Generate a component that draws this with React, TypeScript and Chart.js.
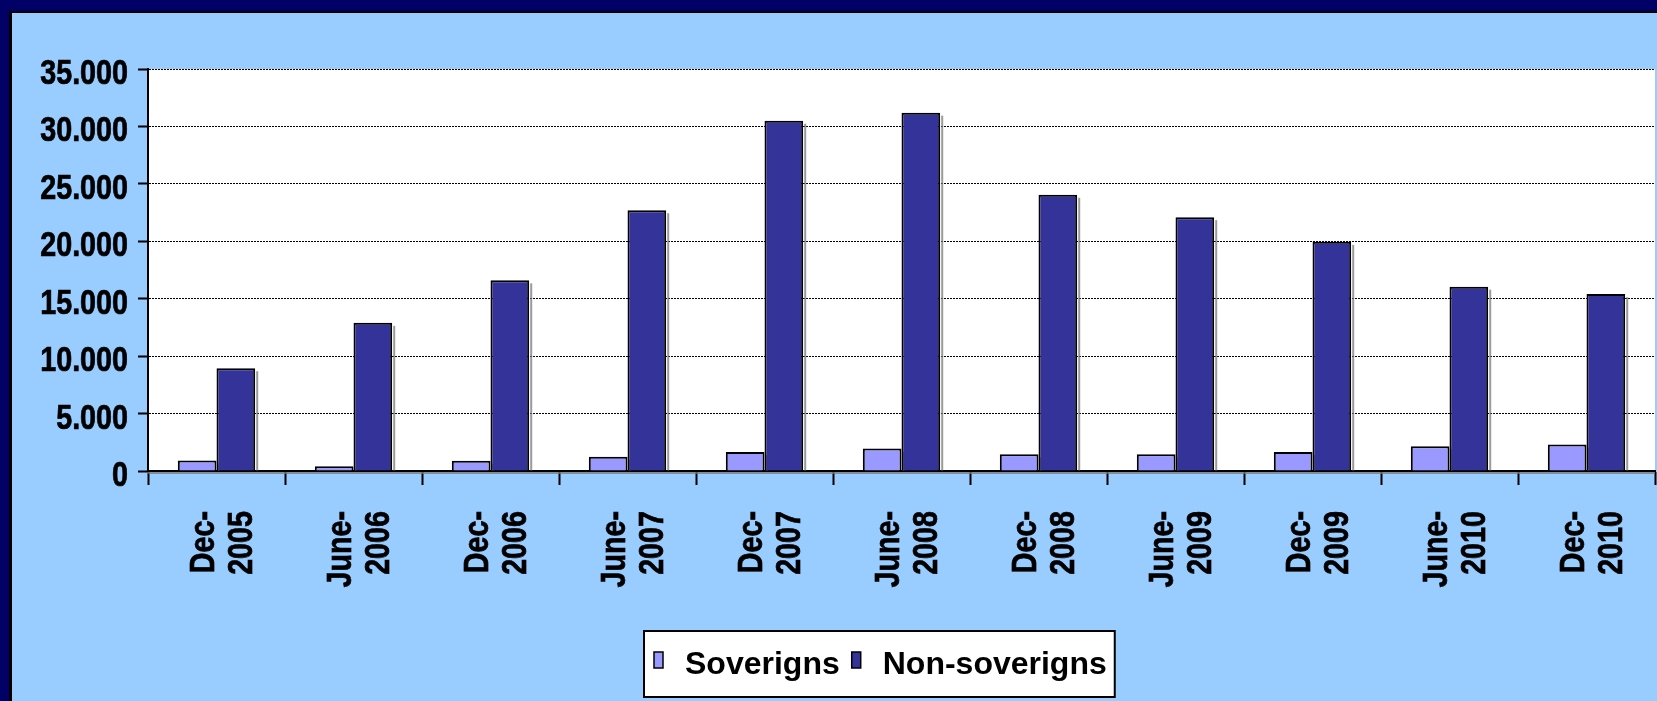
import React, { useEffect, useRef } from 'react';
import { Chart, registerables } from 'chart.js';

Chart.register(...registerables);

// ---- Data ----
const categories: string[][] = [
  ['Dec-', '2005'],
  ['June-', '2006'],
  ['Dec-', '2006'],
  ['June-', '2007'],
  ['Dec-', '2007'],
  ['June-', '2008'],
  ['Dec-', '2008'],
  ['June-', '2009'],
  ['Dec-', '2009'],
  ['June-', '2010'],
  ['Dec-', '2010'],
];
const sovereigns: number[] = [920, 420, 900, 1250, 1650, 1950, 1450, 1450, 1650, 2150, 2300];
const nonSovereigns: number[] = [8950, 12900, 16600, 22700, 30500, 31200, 24050, 22100, 19950, 16050, 15400];
const seriesNames: string[] = ['Soverigns', 'Non-soverigns'];
const seriesColors: string[] = ['#9999FF', '#333399'];
const yMin = 0;
const yMax = 35000;
const yStep = 5000;

// ---- Style constants ----
const W = 1657;
const H = 701;
const BG = '#99CCFF';
const NAVY = '#000066';
const AXIS_FONT = 'bold 35px "Liberation Sans", Arial, sans-serif';
const NARROW = 0.82; // emulate a narrow face
const LEGEND_FONT = 'bold 32px "Liberation Sans", Arial, sans-serif';

const formatThousands = (v: number): string => {
  const s = Math.round(v).toString();
  return s.replace(/\B(?=(\d{3})+(?!\d))/g, '.');
};

const framePlugin = {
  id: 'frameAndLegend',
  beforeDraw(chart: any) {
    const { ctx, chartArea } = chart;
    ctx.save();
    ctx.fillStyle = BG;
    ctx.fillRect(0, 0, W, H);
    ctx.fillStyle = NAVY;
    ctx.fillRect(0, 0, W, 11);
    ctx.fillRect(0, 0, 9, H);
    ctx.fillStyle = '#000';
    ctx.fillRect(9, 11, W - 9, 2);
    ctx.fillRect(9, 11, 3, H - 11);
    ctx.fillStyle = '#FFFFFF';
    ctx.fillRect(chartArea.left, chartArea.top, chartArea.right - chartArea.left, chartArea.bottom - chartArea.top);
    ctx.restore();
  },
  beforeDatasetsDraw(chart: any) {
    const { ctx, chartArea } = chart;
    ctx.save();
    ctx.fillStyle = 'rgba(120,120,120,0.75)';
    chart.data.datasets.forEach((_: any, di: number) => {
      const meta = chart.getDatasetMeta(di);
      meta.data.forEach((bar: any) => {
        const right = bar.x + bar.width / 2;
        ctx.fillRect(right + 1, bar.y + 3, 2, bar.base - bar.y - 3);
      });
    });
    ctx.fillRect(chartArea.left, chartArea.bottom + 1, chartArea.right - chartArea.left, 2);
    ctx.restore();
  },
  afterDraw(chart: any) {
    const { ctx } = chart;
    const xScale = chart.scales.x;
    const yScale = chart.scales.y;

    // ---- y tick labels ----
    ctx.save();
    ctx.font = AXIS_FONT;
    ctx.fillStyle = '#000';
    ctx.strokeStyle = '#000';
    ctx.lineWidth = 0.7;
    ctx.textAlign = 'right';
    ctx.textBaseline = 'alphabetic';
    yScale.ticks.forEach((t: any) => {
      const py = yScale.getPixelForValue(t.value);
      const label = formatThousands(t.value);
      ctx.save();
      ctx.translate(yScale.right - 20, py + 15);
      ctx.scale(NARROW, 1);
      ctx.fillText(label, 0, 0);
      ctx.strokeText(label, 0, 0);
      ctx.restore();
    });

    // ---- x tick labels (rotated, two lines) ----
    const lineOffsets = [-3, 35];
    (chart.data.labels as string[][]).forEach((lines, i) => {
      const px = xScale.getPixelForValue(i);
      ctx.save();
      ctx.translate(px, xScale.top + 40);
      ctx.rotate(-Math.PI / 2);
      ctx.scale(NARROW, 1);
      ctx.textAlign = 'right';
      lines.forEach((line, li) => {
        const off = lineOffsets[li] ?? li * 38;
        ctx.fillText(line, 0, off);
        ctx.strokeText(line, 0, off);
      });
      ctx.restore();
    });
    ctx.restore();

    // ---- legend ----
    ctx.save();
    ctx.font = LEGEND_FONT;
    const sq = 9;
    const sqH = 16;
    const gapText = 22;
    const gapItem = 12;
    const padL = 10;
    const padR = 8;
    const widths = seriesNames.map((n) => ctx.measureText(n).width);
    let total = padL + padR;
    widths.forEach((w, i) => {
      total += sq + gapText + w + (i < widths.length - 1 ? gapItem : 0);
    });
    const cx = 879;
    const top = 631;
    const boxH = 66;
    const left = Math.round(cx - total / 2);
    ctx.fillStyle = '#FFFFFF';
    ctx.fillRect(left, top, total, boxH);
    ctx.strokeStyle = '#000';
    ctx.lineWidth = 2;
    ctx.strokeRect(left, top, total, boxH);
    let x = left + padL;
    seriesNames.forEach((name, i) => {
      ctx.fillStyle = seriesColors[i];
      ctx.fillRect(x, 652, sq, sqH);
      ctx.lineWidth = 1.5;
      ctx.strokeRect(x, 652, sq, sqH);
      x += sq + gapText;
      ctx.fillStyle = '#000';
      ctx.textBaseline = 'alphabetic';
      ctx.textAlign = 'left';
      ctx.fillText(name, x, 674);
      x += widths[i] + gapItem;
    });
    ctx.restore();
  },
};

export default function App() {
  const canvasRef = useRef<HTMLCanvasElement | null>(null);

  useEffect(() => {
    document.body.style.margin = '0';
    const canvas = canvasRef.current;
    if (!canvas) return;
    const chart = new Chart(canvas, {
      type: 'bar',
      data: {
        labels: categories,
        datasets: [
          {
            label: seriesNames[0],
            data: sovereigns,
            backgroundColor: seriesColors[0],
            borderColor: '#000',
            borderWidth: 2,
            categoryPercentage: 0.565,
            barPercentage: 1,
          },
          {
            label: seriesNames[1],
            data: nonSovereigns,
            backgroundColor: seriesColors[1],
            borderColor: '#000',
            borderWidth: 2,
            categoryPercentage: 0.565,
            barPercentage: 1,
          },
        ],
      },
      options: {
        responsive: false,
        animation: false,
        devicePixelRatio: 1,
        layout: { padding: { top: 69, left: 12, right: 2, bottom: 0 } },
        plugins: {
          legend: { display: false },
          tooltip: { enabled: false },
          title: { display: false },
        },
        scales: {
          x: {
            afterFit: (s: any) => {
              s.height = H - 471;
              s.paddingLeft = 0;
              s.paddingRight = 0;
            },
            grid: {
              display: true,
              drawOnChartArea: false,
              drawTicks: true,
              tickLength: 14,
              tickColor: '#000',
              tickWidth: 2,
              offset: true,
            },
            border: { display: true, color: '#000', width: 2 },
            ticks: { display: false, autoSkip: false },
          },
          y: {
            min: yMin,
            max: yMax,
            afterFit: (s: any) => {
              s.width = 136;
              s.paddingTop = 0;
              s.paddingBottom = 0;
            },
            grid: {
              display: true,
              drawOnChartArea: true,
              drawTicks: true,
              tickLength: 10,
              color: (c: any) => (c.tick && c.tick.value === 0 ? 'rgba(0,0,0,0)' : '#000'),
              lineWidth: 1,
              tickColor: '#000',
              tickWidth: 2,
            },
            border: { display: true, color: '#000', width: 2, dash: [2, 1] },
            ticks: {
              display: false,
              stepSize: yStep,
              callback: (v: any) => formatThousands(Number(v)),
            },
          },
        },
      },
      plugins: [framePlugin],
    } as any);
    return () => chart.destroy();
  }, []);

  return (
    <div style={{ width: W, height: H, position: 'relative' }}>
      <canvas ref={canvasRef} width={W} height={H} style={{ display: 'block', width: W, height: H }} />
    </div>
  );
}
